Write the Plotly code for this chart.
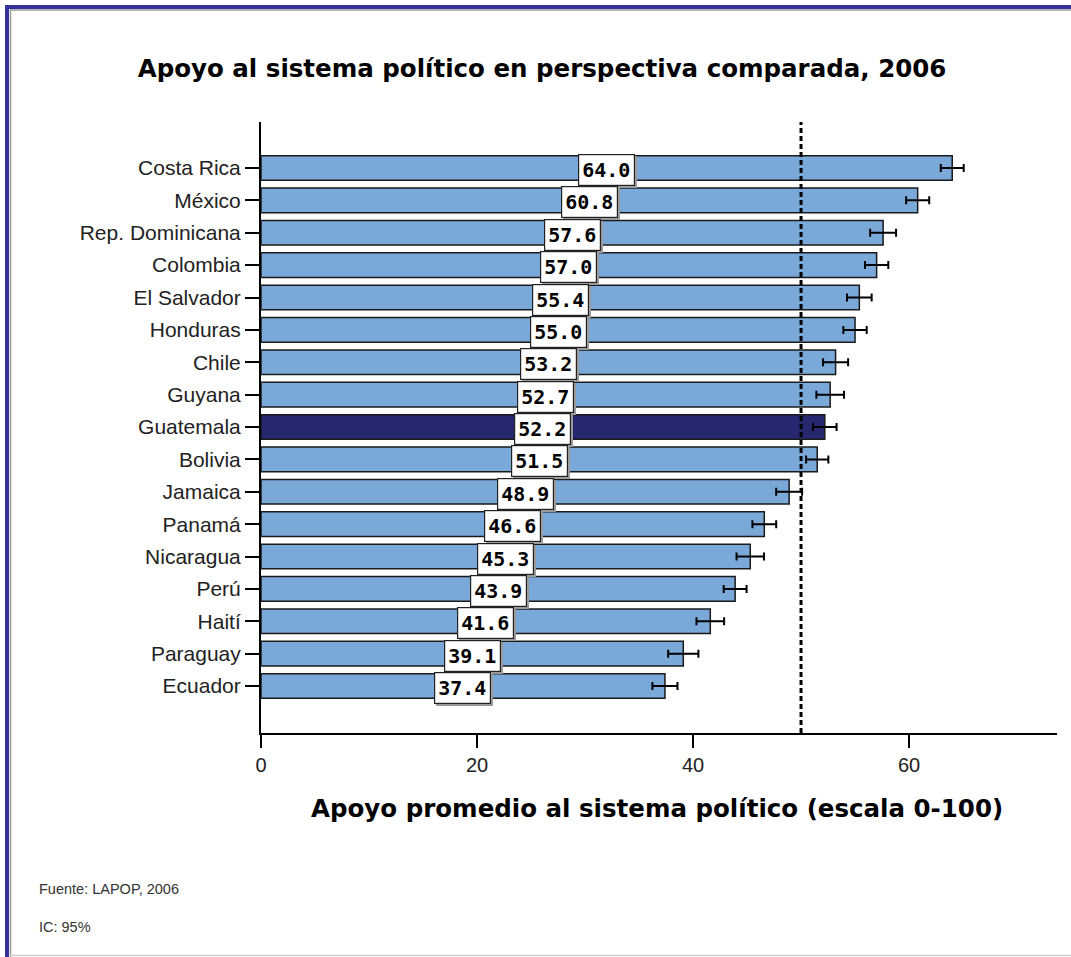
import plotly.graph_objects as go

countries = ["Costa Rica", "México", "Rep. Dominicana", "Colombia", "El Salvador",
             "Honduras", "Chile", "Guyana", "Guatemala", "Bolivia", "Jamaica",
             "Panamá", "Nicaragua", "Perú", "Haití", "Paraguay", "Ecuador"]
values = [64.0, 60.8, 57.6, 57.0, 55.4, 55.0, 53.2, 52.7, 52.2, 51.5, 48.9,
          46.6, 45.3, 43.9, 41.6, 39.1, 37.4]
ci_half = [1.06, 1.07, 1.2, 1.08, 1.14, 1.08, 1.16, 1.28, 1.09, 1.03, 1.2,
           1.1, 1.27, 1.06, 1.28, 1.4, 1.16]
highlight = "Guatemala"
x_ticks = [0, 20, 40, 60]
reference_value = 50

LIGHT = "#7aa8d8"
DARK = "#27276f"

# plot area in pixels
L, R, T, B = 261, 1057, 122, 733
W, H = R - L, B - T


def px(x):
    return (x - L) / W


def py(y):
    return (B - y) / H


colors = [DARK if c == highlight else LIGHT for c in countries]

fig = go.Figure()
fig.add_trace(go.Bar(
    x=values, y=countries, orientation="h",
    marker=dict(color=colors, line=dict(color="#1a1a1a", width=1.5)),
    width=0.76,
    error_x=dict(type="data", array=ci_half, visible=True,
                 color="black", thickness=2, width=4),
    hoverinfo="x+y",
))

annotations = []
# shadows of the value boxes
for c, v in zip(countries, values):
    annotations.append(dict(
        x=v / 2, y=c, xref="x", yref="y", showarrow=False,
        text=f"<b>{v:.1f}</b>",
        font=dict(family="DejaVu Sans Mono", size=20, color="rgba(0,0,0,0)"),
        bgcolor="#9a9a9a", bordercolor="#9a9a9a", borderwidth=1.2, borderpad=3,
        xshift=2, yshift=-4,
    ))
for c, v in zip(countries, values):
    annotations.append(dict(
        x=v / 2, y=c, xref="x", yref="y", showarrow=False,
        text=f"<b>{v:.1f}</b>",
        font=dict(family="DejaVu Sans Mono", size=20, color="black"),
        bgcolor="white", bordercolor="#222222", borderwidth=1.2, borderpad=3,
        yshift=-2,
    ))

annotations.append(dict(
    x=px(657), y=py(808), xref="paper", yref="paper", showarrow=False,
    xanchor="center", yanchor="middle",
    text="<b>Apoyo promedio al sistema político (escala 0-100)</b>",
    font=dict(family="DejaVu Sans", size=24.5, color="black"),
))
annotations.append(dict(
    x=px(37), y=py(889), xref="paper", yref="paper", showarrow=False,
    xanchor="left", yanchor="middle", text="Fuente: LAPOP, 2006",
    font=dict(family="Liberation Sans", size=14.5, color="#333333"),
))
annotations.append(dict(
    x=px(37), y=py(927), xref="paper", yref="paper", showarrow=False,
    xanchor="left", yanchor="middle", text="IC: 95%",
    font=dict(family="Liberation Sans", size=14.5, color="#333333"),
))

shapes = [
    dict(type="line", xref="x", yref="paper", x0=reference_value, x1=reference_value,
         y0=0, y1=1, line=dict(color="black", width=3, dash="5px,3px")),
    # frame
    dict(type="line", xref="paper", yref="paper", x0=px(5), x1=px(1071),
         y0=py(7), y1=py(7), line=dict(color="#333399", width=4)),
    dict(type="line", xref="paper", yref="paper", x0=px(7), x1=px(7),
         y0=py(5), y1=py(957), line=dict(color="#333399", width=4)),
    dict(type="line", xref="paper", yref="paper", x0=px(10), x1=px(1071),
         y0=py(10), y1=py(10), line=dict(color="#999999", width=1.5)),
    dict(type="line", xref="paper", yref="paper", x0=px(10.5), x1=px(10.5),
         y0=py(10), y1=py(957), line=dict(color="#999999", width=1.5)),
    dict(type="line", xref="paper", yref="paper", x0=px(10), x1=px(1071),
         y0=py(955.5), y1=py(955.5), line=dict(color="#cccccc", width=1.5)),
]

fig.update_layout(
    width=1071, height=957,
    margin=dict(l=L, r=1071 - R, t=T, b=957 - B, pad=0),
    paper_bgcolor="white", plot_bgcolor="white",
    showlegend=False,
    title=dict(text="<b>Apoyo al sistema político en perspectiva comparada, 2006</b>",
               x=542 / 1071, y=1 - 68 / 957, xref="container", yref="container",
               xanchor="center", yanchor="middle",
               font=dict(family="DejaVu Sans", size=24.5, color="black")),
    xaxis=dict(range=[0, 73.7], tickvals=x_ticks, ticks="outside", ticklen=13,
               tickwidth=1.5, tickcolor="black", showline=True, linewidth=2,
               linecolor="black", showgrid=False, zeroline=False,
               tickfont=dict(family="Liberation Sans", size=20, color="#222222")),
    yaxis=dict(type="category", range=[17.45, -1.42], ticks="outside", ticklen=14,
               tickwidth=1.5, tickcolor="black", showline=True, linewidth=2,
               linecolor="black", showgrid=False, zeroline=False,
               tickfont=dict(family="Liberation Sans", size=21, color="#222222")),
    annotations=annotations,
    shapes=shapes,
    bargap=0.24,
)

fig.write_html("out.html",
               config={"displayModeBar": False},
               post_script="document.body.style.margin='0';"
                           "document.body.style.overflow='hidden';")
